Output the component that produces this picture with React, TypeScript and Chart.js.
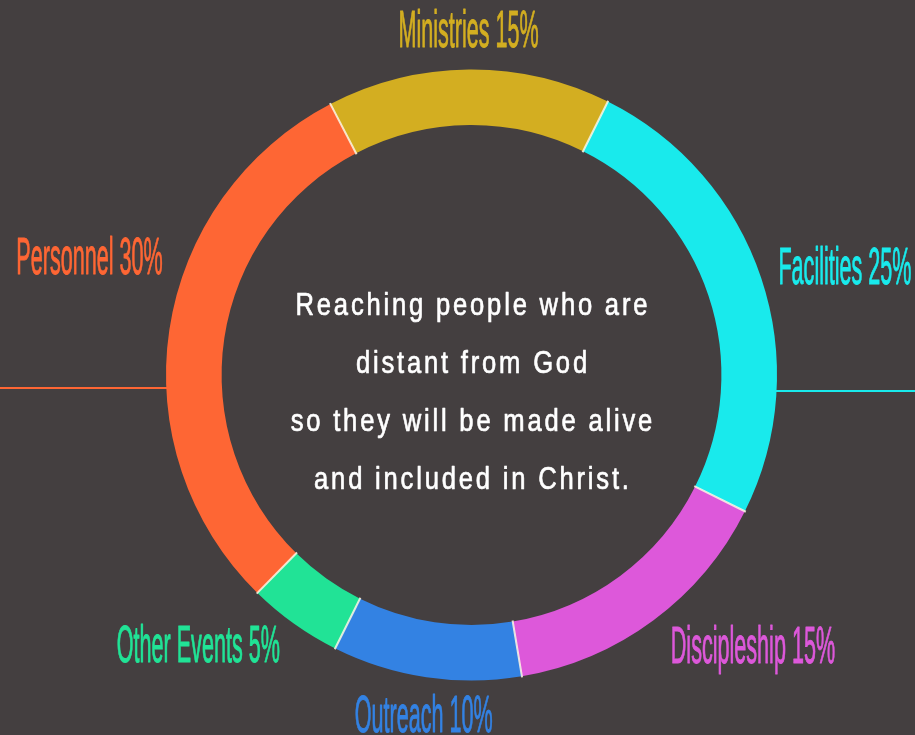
import React, { useEffect, useRef } from "react";
import { Chart, registerables } from "chart.js";

Chart.register(...registerables);

// ---- data ----
const categories = ["Ministries", "Facilities", "Discipleship", "Outreach", "Other Events", "Personnel"];
const sharePercents = [15, 25, 15, 10, 5, 30];
const sliceColours = ["#D3AE21", "#19EAEC", "#DD58DA", "#3382E3", "#21E396", "#FE6634"];
const missionLines = [
  "Reaching people who are",
  "distant from God",
  "so they will be made alive",
  "and included in Christ.",
];

const BG = "#443F40";

const ringDecor = {
  id: "ringDecor",
  afterDatasetsDraw(chart: any, _args: any, opts: any) {
    const meta = chart.getDatasetMeta(0);
    const arcs = meta.data;
    if (!arcs.length) return;
    const ctx: CanvasRenderingContext2D = chart.ctx;
    const { x: cx, y: cy, outerRadius, innerRadius } = arcs[0].getProps(
      ["x", "y", "outerRadius", "innerRadius"],
      true
    );
    const colours = chart.data.datasets[0].backgroundColor as string[];
    const labels = chart.data.labels as string[];
    const values = chart.data.datasets[0].data as number[];

    ctx.save();
    // separators between slices
    ctx.strokeStyle = opts.separatorColor;
    ctx.lineWidth = opts.separatorWidth;
    arcs.forEach((a: any) => {
      const { startAngle } = a.getProps(["startAngle"], true);
      ctx.beginPath();
      ctx.moveTo(cx + Math.cos(startAngle) * (innerRadius - 1), cy + Math.sin(startAngle) * (innerRadius - 1));
      ctx.lineTo(cx + Math.cos(startAngle) * (outerRadius + 1), cy + Math.sin(startAngle) * (outerRadius + 1));
      ctx.stroke();
    });

    // leader lines to the canvas edges
    opts.leaders.forEach((l: any) => {
      const a = arcs[l.index];
      const { startAngle, endAngle } = a.getProps(["startAngle", "endAngle"], true);
      const mid = (startAngle + endAngle) / 2;
      const y = cy + l.dy;
      const half = Math.sqrt(outerRadius * outerRadius - l.dy * l.dy);
      ctx.strokeStyle = colours[l.index];
      ctx.lineWidth = opts.leaderWidth;
      ctx.beginPath();
      if (Math.cos(mid) < 0) {
        ctx.moveTo(0, y);
        ctx.lineTo(cx - half + 1, y);
      } else {
        ctx.moveTo(cx + half - 1, y);
        ctx.lineTo(chart.width, y);
      }
      ctx.stroke();
    });

    // slice labels
    const fs = opts.labelFontSize;
    const cap = fs * 0.716;
    ctx.font = `${fs}px "Liberation Sans", Arial, sans-serif`;
    arcs.forEach((a: any, i: number) => {
      const { startAngle, endAngle } = a.getProps(["startAngle", "endAngle"], true);
      const nudge = ((opts.angleNudge[i] || 0) * Math.PI) / 180;
      const gap = opts.labelGap[i] ?? 22;
      const mid = (startAngle + endAngle) / 2 + nudge;
      const c = Math.cos(mid);
      const s = Math.sin(mid);
      const text = `${labels[i]} ${values[i]}%`;
      let align: CanvasTextAlign = "center";
      let x: number;
      let baseline: number;
      const R = outerRadius + gap;
      if (Math.abs(c) < 0.35) {
        x = cx + c * R;
        const y = cy + s * R;
        baseline = s < 0 ? y : y + cap;
      } else {
        align = c > 0 ? "left" : "right";
        x = cx + c * R;
        baseline = cy + s * R + cap / 2;
      }
      ctx.save();
      ctx.fillStyle = colours[i];
      ctx.strokeStyle = colours[i];
      ctx.lineWidth = opts.labelStroke;
      ctx.lineJoin = "round";
      ctx.textAlign = align;
      ctx.textBaseline = "alphabetic";
      ctx.translate(x, baseline);
      ctx.scale(opts.labelScaleX, 1);
      ctx.fillText(text, 0, 0);
      ctx.strokeText(text, 0, 0);
      ctx.restore();
    });

    // centre text
    const cfs = opts.centerFontSize;
    ctx.font = `${cfs}px "Liberation Sans", Arial, sans-serif`;
    (ctx as any).letterSpacing = `${opts.centerLetterSpacing}px`;
    ctx.fillStyle = opts.centerColor;
    ctx.strokeStyle = opts.centerColor;
    ctx.lineWidth = opts.centerStroke;
    ctx.lineJoin = "round";
    ctx.textAlign = "center";
    ctx.textBaseline = "alphabetic";
    const n = opts.lines.length;
    opts.lines.forEach((line: string, i: number) => {
      const y = cy + (i - (n - 1) / 2) * opts.centerLineHeight + opts.centerShift;
      ctx.save();
      ctx.translate(cx + (opts.centerLetterSpacing * opts.centerScaleX) / 2, y);
      ctx.scale(opts.centerScaleX, 1);
      ctx.fillText(line, 0, 0);
      ctx.strokeText(line, 0, 0);
      ctx.restore();
    });
    ctx.restore();
  },
};

export default function App() {
  const ref = useRef<HTMLCanvasElement>(null);
  useEffect(() => {
    document.body.style.margin = "0";
    document.body.style.background = BG;
    const chart = new Chart(ref.current!, {
      type: "doughnut",
      data: {
        labels: categories,
        datasets: [
          {
            data: sharePercents,
            backgroundColor: sliceColours,
            borderWidth: 0,
            hoverOffset: 0,
          },
        ],
      },
      options: {
        animation: false,
        responsive: false,
        events: [],
        rotation: -27.5,
        cutout: "81.8%",
        radius: 305.5,
        layout: { padding: { left: 28, top: 15, right: 0, bottom: 0 } },
        plugins: {
          legend: { display: false },
          tooltip: { enabled: false },
          ringDecor: {
            separatorColor: "rgba(255,248,230,0.85)",
            separatorWidth: 2,
            leaders: [
              { index: 5, dy: 13 },
              { index: 1, dy: 16 },
            ],
            leaderWidth: 2,
            labelFontSize: 52,
            labelScaleX: 0.415,
            labelStroke: 1.0,
            labelGap: { 0: 22.5, 1: 20.5, 2: 29.5, 3: 18, 4: 24.5, 5: 25.5 },
            angleNudge: { 1: -1.2, 5: 12.6 },
            lines: missionLines,
            centerFontSize: 32,
            centerScaleX: 0.8,
            centerLetterSpacing: 3.5,
            centerStroke: 0.7,
            centerLineHeight: 58,
            centerShift: 27,
            centerColor: "#FFFFFF",
          },
        } as any,
      },
      plugins: [ringDecor],
    });
    return () => chart.destroy();
  }, []);
  return (
    <div style={{ width: 915, height: 735, background: BG, overflow: "hidden" }}>
      <canvas ref={ref} width={915} height={735} style={{ display: "block" }} />
    </div>
  );
}
